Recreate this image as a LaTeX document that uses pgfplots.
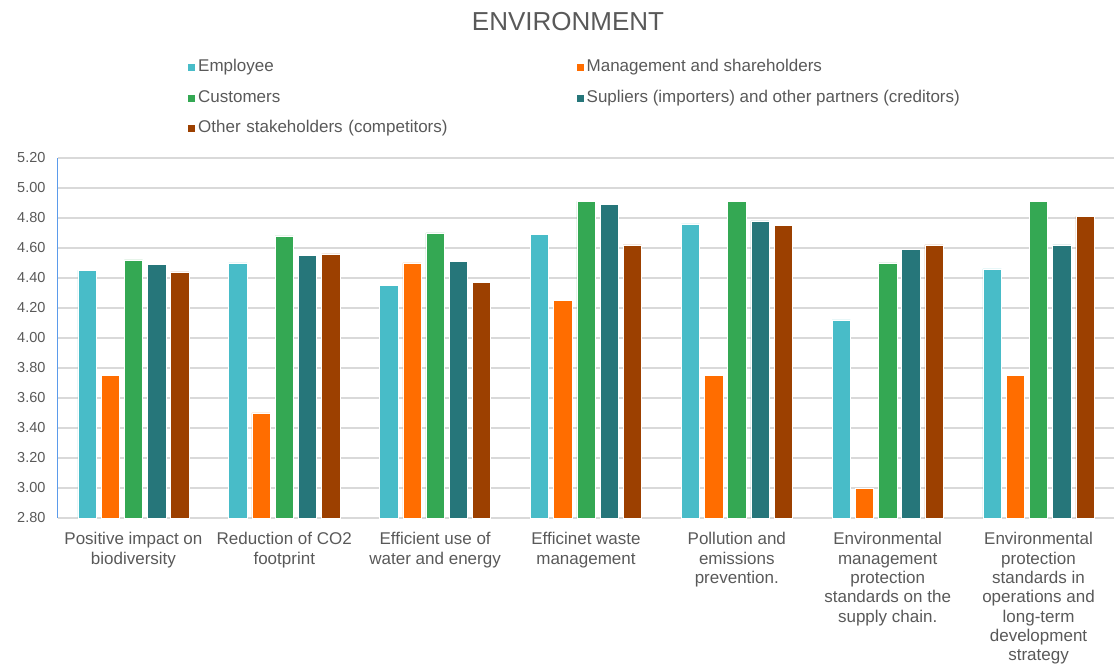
\documentclass[border=0pt]{standalone}
\usepackage{pgfplots}
\pgfplotsset{compat=1.18}
\usepackage{fontspec}
\setmainfont{Liberation Sans}

\definecolor{cEmp}{RGB}{72,188,200}
\definecolor{cMan}{RGB}{255,109,0}
\definecolor{cCus}{RGB}{52,168,83}
\definecolor{cSup}{RGB}{38,118,122}
\definecolor{cOth}{RGB}{156,64,0}
\definecolor{txt}{RGB}{89,89,89}
\definecolor{gridc}{RGB}{217,217,217}
\definecolor{yline}{RGB}{91,155,235}

\begin{document}
\begin{tikzpicture}
\path[use as bounding box] (0,0) rectangle (1114pt,664pt);
\begin{axis}[
  at={(58pt,146pt)}, anchor=south west,
  scale only axis, width=1056pt, height=360pt,
  ybar=4.9pt, bar width=18.3pt,
  xmin=-0.5, xmax=6.5,
  ymin=2.8, ymax=5.2,
  ytick distance=0.2,
  xtick=data,
  xticklabels={
    {Positive impact on\\biodiversity},
    {Reduction of CO2\\footprint},
    {Efficient use of\\water and energy},
    {Efficinet waste\\management},
    {Pollution and\\emissions\\prevention.},
    {Environmental\\management\\protection\\standards on the\\supply chain.},
    {Environmental\\protection\\standards in\\operations and\\long-term\\development\\strategy}},
  xticklabel style={align=center, font=\fontsize{17}{19.3}\selectfont, text=txt, yshift=-11pt},
  yticklabel style={font=\fontsize{14.5}{17}\selectfont, text=txt, xshift=-9pt},
  /pgf/number format/.cd, fixed, fixed zerofill, precision=2, assume math mode=true,
  /pgfplots/.cd,
  major tick length=0pt,
  ymajorgrids, major grid style={gridc, line width=1.3pt},
  axis x line*=bottom, axis y line*=left,
  x axis line style={gridc, line width=1.3pt, -},
  y axis line style={yline, line width=1pt, -},
  title={ENVIRONMENT},
  title style={at={(axis description cs:0.483,1)}, anchor=center, yshift=130pt,
    font=\fontsize{26}{30}\selectfont, text=txt},
  legend columns=2,
  legend cell align=left,
  legend image code/.code={\fill[#1] (0pt,-4pt) rectangle (8pt,4pt);},
  legend style={draw=none, fill=none, at={(axis description cs:0.1193,1)},
    anchor=south west, yshift=18pt,
    font=\fontsize{17}{20}\selectfont, text=txt,
    row sep=11.5pt,
    nodes={text height=12pt, text depth=3pt, inner xsep=2.5pt},
    /tikz/column 2/.append style={text width=375pt, align=left}},
]
\addplot[fill=cEmp, draw=white, line width=0.5pt] coordinates
  {(0,4.45) (1,4.50) (2,4.35) (3,4.69) (4,4.76) (5,4.12) (6,4.46)};
\addplot[fill=cMan, draw=white, line width=0.5pt] coordinates
  {(0,3.75) (1,3.50) (2,4.50) (3,4.25) (4,3.75) (5,3.00) (6,3.75)};
\addplot[fill=cCus, draw=white, line width=0.5pt] coordinates
  {(0,4.52) (1,4.68) (2,4.70) (3,4.91) (4,4.91) (5,4.50) (6,4.91)};
\addplot[fill=cSup, draw=white, line width=0.5pt] coordinates
  {(0,4.49) (1,4.55) (2,4.51) (3,4.89) (4,4.78) (5,4.59) (6,4.62)};
\addplot[fill=cOth, draw=white, line width=0.5pt] coordinates
  {(0,4.44) (1,4.56) (2,4.37) (3,4.62) (4,4.75) (5,4.62) (6,4.81)};
\legend{Employee, Management and shareholders, Customers,
  Supliers (importers) and other partners (creditors),
  Other stakeholders (competitors)}
\end{axis}
\end{tikzpicture}
\end{document}
